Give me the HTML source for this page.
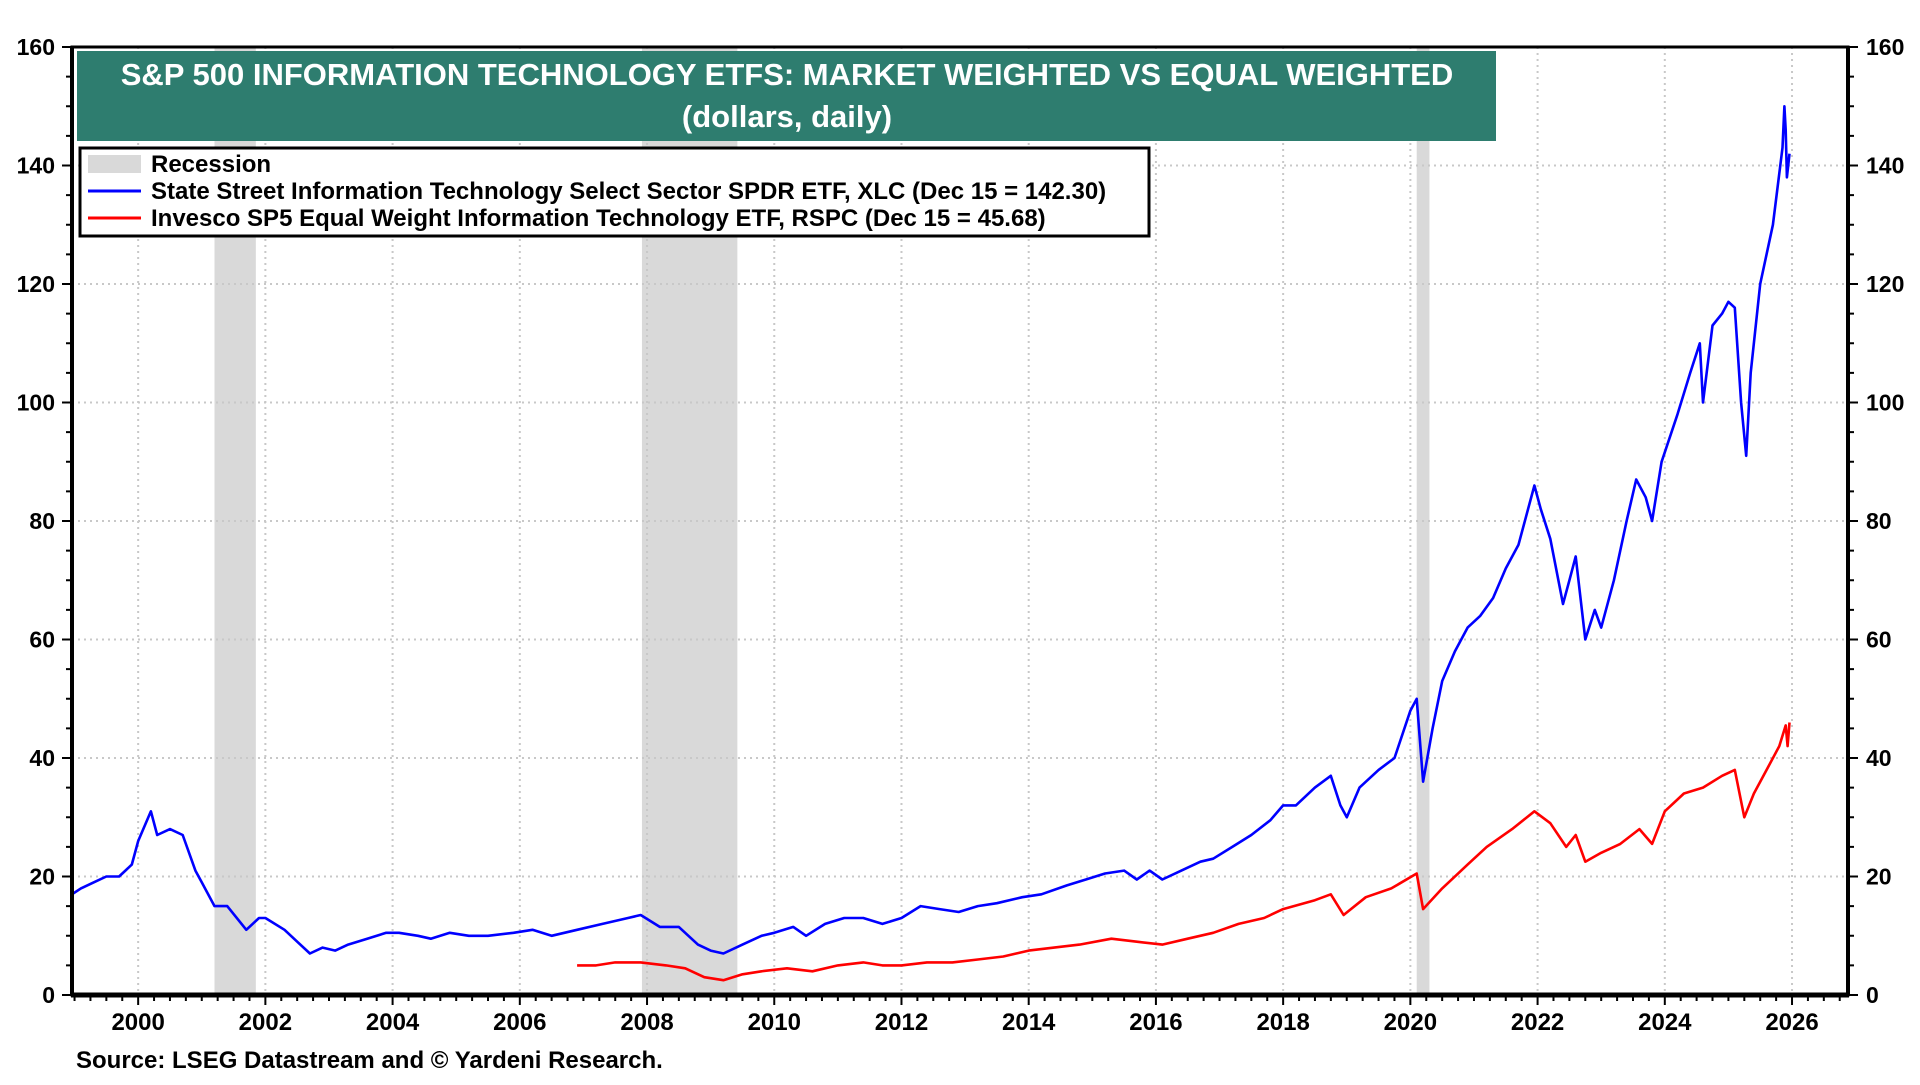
<!DOCTYPE html>
<html><head><meta charset="utf-8"><style>
body{margin:0;background:#fff;width:1920px;height:1080px;overflow:hidden;font-family:"Liberation Sans",Arial,sans-serif}
</style></head><body>
<svg id="chart" width="1920" height="1080" xmlns="http://www.w3.org/2000/svg" font-family="Liberation Sans, Arial, sans-serif"></svg>
<script>
const blueX=[1998.96,1999.1,1999.3,1999.5,1999.7,1999.9,2000.0,2000.2,2000.3,2000.5,2000.7,2000.9,2001.0,2001.2,2001.4,2001.7,2001.9,2002.0,2002.3,2002.5,2002.7,2002.9,2003.1,2003.3,2003.6,2003.9,2004.1,2004.4,2004.6,2004.9,2005.2,2005.5,2005.9,2006.2,2006.5,2006.9,2007.3,2007.7,2007.9,2008.2,2008.5,2008.8,2009.0,2009.2,2009.5,2009.8,2010.0,2010.3,2010.5,2010.8,2011.1,2011.4,2011.7,2012.0,2012.3,2012.6,2012.9,2013.2,2013.5,2013.9,2014.2,2014.6,2014.9,2015.2,2015.5,2015.7,2015.9,2016.1,2016.4,2016.7,2016.9,2017.2,2017.5,2017.8,2018.0,2018.2,2018.5,2018.75,2018.9,2019.0,2019.2,2019.5,2019.75,2020.0,2020.1,2020.2,2020.35,2020.5,2020.7,2020.9,2021.1,2021.3,2021.5,2021.7,2021.95,2022.05,2022.2,2022.4,2022.5,2022.6,2022.75,2022.9,2023.0,2023.2,2023.4,2023.55,2023.7,2023.8,2023.95,2024.2,2024.4,2024.55,2024.6,2024.75,2024.9,2025.0,2025.1,2025.2,2025.28,2025.35,2025.5,2025.7,2025.85,2025.88,2025.9,2025.92,2025.96];
const blueY=[17,18,19,20,20,22,26,31,27,28,27,21,19,15,15,11,13,13,11,9,7,8,7.5,8.5,9.5,10.5,10.5,10,9.5,10.5,10,10,10.5,11,10,11,12,13,13.5,11.5,11.5,8.5,7.5,7,8.5,10,10.5,11.5,10,12,13,13,12,13,15,14.5,14,15,15.5,16.5,17,18.5,19.5,20.5,21,19.5,21,19.5,21,22.5,23,25,27,29.5,32,32,35,37,32,30,35,38,40,48,50,36,45,53,58,62,64,67,72,76,86,82,77,66,70,74,60,65,62,70,80,87,84,80,90,98,105,110,100,113,115,117,116,100,91,105,120,130,143,150,146,138,142];
const redX=[2006.9,2007.2,2007.5,2007.9,2008.3,2008.6,2008.9,2009.2,2009.5,2009.8,2010.2,2010.6,2011.0,2011.4,2011.7,2012.0,2012.4,2012.8,2013.2,2013.6,2014.0,2014.4,2014.8,2015.3,2015.7,2016.1,2016.5,2016.9,2017.3,2017.7,2018.0,2018.5,2018.75,2018.95,2019.3,2019.7,2020.1,2020.2,2020.5,2020.9,2021.2,2021.6,2021.95,2022.2,2022.45,2022.6,2022.75,2023.0,2023.3,2023.6,2023.8,2024.0,2024.3,2024.6,2024.9,2025.1,2025.25,2025.4,2025.6,2025.8,2025.9,2025.93,2025.96];
const redY=[5,5,5.5,5.5,5,4.5,3,2.5,3.5,4,4.5,4,5,5.5,5,5,5.5,5.5,6,6.5,7.5,8,8.5,9.5,9,8.5,9.5,10.5,12,13,14.5,16,17,13.5,16.5,18,20.5,14.5,18,22,25,28,31,29,25,27,22.5,24,25.5,28,25.5,31,34,35,37,38,30,34,38,42,45.5,42,46];
const recessions=[[2001.2,2001.85],[2007.92,2009.42],[2020.1,2020.3]];
const yTicks=[0,20,40,60,80,100,120,140,160];
const xTicks=[2000,2002,2004,2006,2008,2010,2012,2014,2016,2018,2020,2022,2024,2026];

const L=72,R=1848,T=47,B=995,X0=1998.96,X1=2026.88;
const sx=v=>L+(v-X0)/(X1-X0)*(R-L);
const sy=v=>B-v/160*(B-T);
const svg=document.getElementById('chart');
const NS='http://www.w3.org/2000/svg';
function mk(tag,at,parent){const e=document.createElementNS(NS,tag);for(const k in at)e.setAttribute(k,at[k]);(parent||svg).appendChild(e);return e;}

recessions.forEach(r=>{
 const e=mk('rect',{x:sx(r[0]),y:T,width:sx(r[1])-sx(r[0]),height:B-T,fill:'#d9d9d9'});
 
 
});
xTicks.forEach(t=>{
 const g=mk('line',{x1:sx(t),x2:sx(t),y1:T,y2:B,stroke:'#c8c8c8','stroke-width':2,'stroke-dasharray':'2,4'});
 
 
 const tx=mk('text',{x:sx(t),y:1030,'text-anchor':'middle','font-size':24,'font-weight':'bold'});
 tx.textContent=t;
 
 
});
for(let q=1999.0;q<X1;q+=0.25){
 const major=Math.abs(q-Math.round(q))<1e-6&&Math.round(q)%2===0;
 mk('line',{x1:sx(q),x2:sx(q),y1:B,y2:B+(major?10:6),stroke:'#000','stroke-width':2});
}
yTicks.forEach(t=>{
 if(t>0&&t<160){const g=mk('line',{x1:L,x2:R,y1:sy(t),y2:sy(t),stroke:'#c8c8c8','stroke-width':2,'stroke-dasharray':'2,4'});
 
 }
 const a=mk('text',{x:55,y:sy(t)+8,'text-anchor':'end','font-size':23,'font-weight':'bold'});
 a.textContent=t;
 
 
 const b=mk('text',{x:1866,y:sy(t)+8,'text-anchor':'start','font-size':23,'font-weight':'bold'});
 b.textContent=t;
 
 
});
for(let v=0;v<=160;v+=5){
 const big=v%20===0;
 mk('line',{x1:L-(big?10:6),x2:L,y1:sy(v),y2:sy(v),stroke:'#000','stroke-width':2});
 mk('line',{x1:R,x2:R+(big?10:6),y1:sy(v),y2:sy(v),stroke:'#000','stroke-width':2});
}
function series(xs,ys,color,name){
 const d=xs.map((x,i)=>(i?'L':'M')+sx(x).toFixed(1)+','+sy(ys[i]).toFixed(1)).join('');
 const p=mk('path',{d:d,fill:'none',stroke:color,'stroke-width':2.6,'stroke-linejoin':'round'});
 
 
}
series(redX,redY,'#ff0000','rspc-line');
series(blueX,blueY,'#0000ff','xlc-line');
const fr=mk('rect',{x:L,y:T,width:R-L,height:B-T,fill:'none',stroke:'#000','stroke-width':3});


mk('line',{x1:L-1,x2:R+1,y1:B,y2:B,stroke:'#000','stroke-width':5});
mk('line',{x1:L,x2:L,y1:T,y2:B,stroke:'#000','stroke-width':4});
mk('line',{x1:R,x2:R,y1:T,y2:B,stroke:'#000','stroke-width':4});

const tb=mk('rect',{x:77,y:51,width:1419,height:90,fill:'#2e7d6f'});


const t1=mk('text',{x:787,y:85,'text-anchor':'middle','font-size':31,'font-weight':'bold',fill:'#fff'});
t1.textContent='S&P 500 INFORMATION TECHNOLOGY ETFS: MARKET WEIGHTED VS EQUAL WEIGHTED';


const t2=mk('text',{x:787,y:127,'text-anchor':'middle','font-size':31,'font-weight':'bold',fill:'#fff'});
t2.textContent='(dollars, daily)';



const lg=mk('rect',{x:80,y:148,width:1069,height:88,fill:'#fff',stroke:'#000','stroke-width':3});


mk('rect',{x:88,y:155,width:53,height:18,fill:'#d9d9d9'});
mk('line',{x1:88,x2:141,y1:191,y2:191,stroke:'#0000ff','stroke-width':3});
mk('line',{x1:88,x2:141,y1:218,y2:218,stroke:'#ff0000','stroke-width':3});
[['Recession',172,'legend-entry-recession'],['State Street Information Technology Select Sector SPDR ETF, XLC (Dec 15 = 142.30)',199,'legend-entry-xlc'],['Invesco SP5 Equal Weight Information Technology ETF, RSPC (Dec 15 = 45.68)',226,'legend-entry-rspc']].forEach(a=>{
 const e=mk('text',{x:151,y:a[1],'font-size':24,'font-weight':'bold'});
 e.textContent=a[0];
 
 
});
const src=mk('text',{x:76,y:1068,'font-size':24,'font-weight':'bold'});
src.textContent='Source: LSEG Datastream and © Yardeni Research.';


</script>
</body></html>
